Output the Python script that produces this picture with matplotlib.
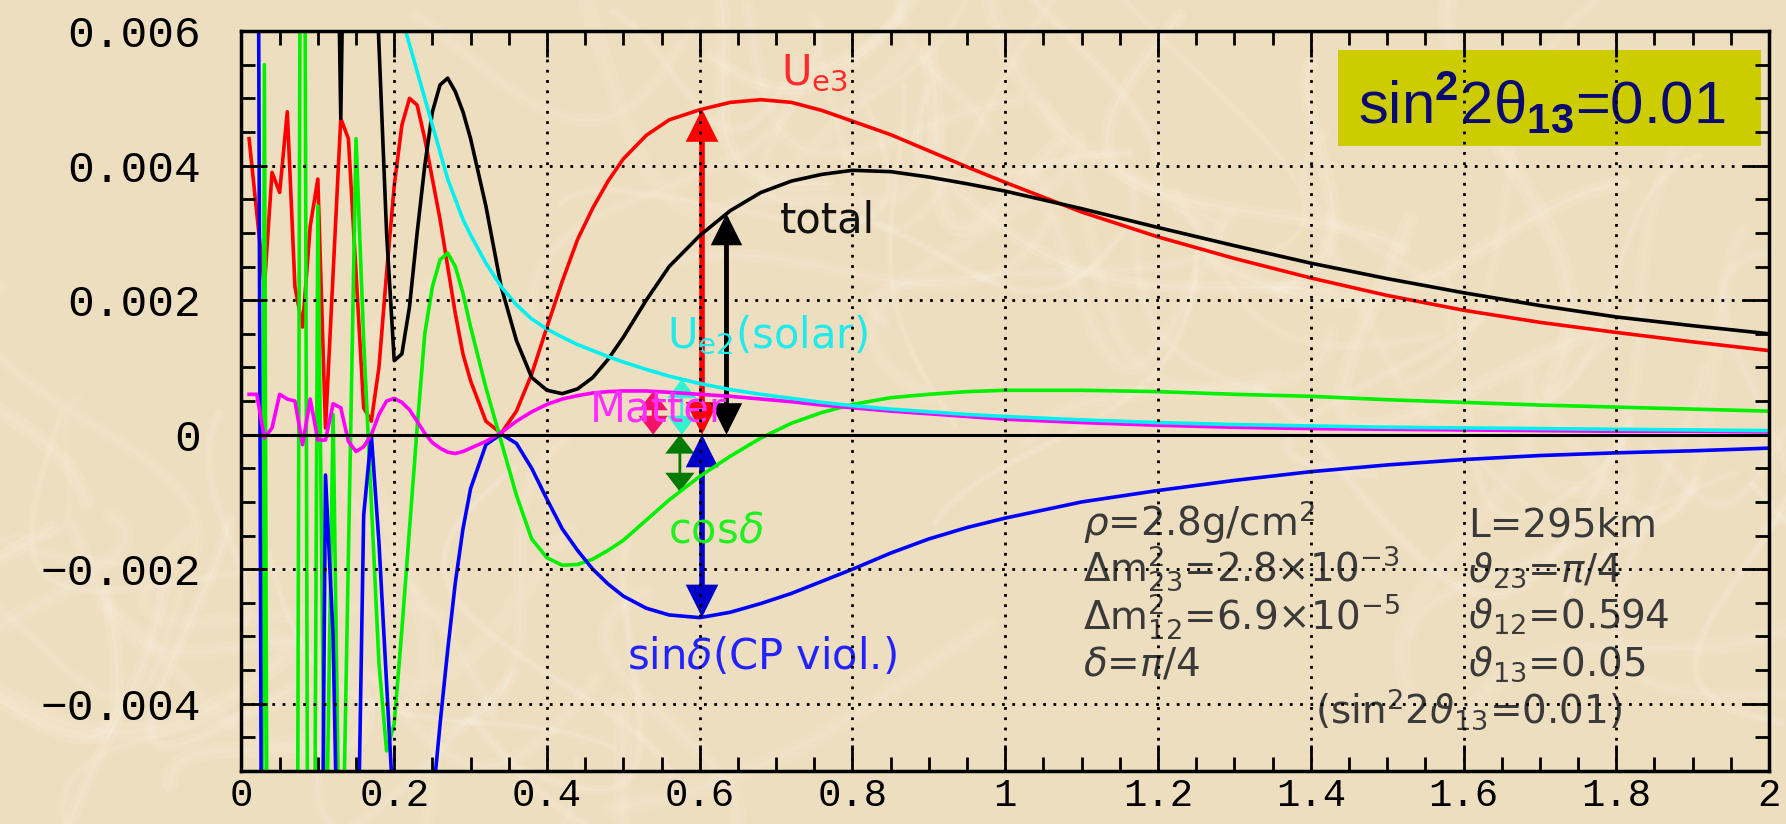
import numpy as np
import matplotlib
matplotlib.use("Agg")
import matplotlib.pyplot as plt
from matplotlib.patches import FancyArrowPatch, Rectangle, ArrowStyle
from matplotlib.ticker import FixedLocator, FixedFormatter, MultipleLocator

# ---------------------------------------------------------------- data
# neutrino energy grid (GeV)
E = [0.01, 0.02, 0.03, 0.04, 0.05, 0.06, 0.07, 0.08, 0.09, 0.10,
     0.11, 0.12, 0.13, 0.14, 0.15, 0.16, 0.17, 0.18, 0.19, 0.20,
     0.21, 0.22, 0.23, 0.24, 0.25, 0.26, 0.27, 0.28, 0.29, 0.30,
     0.32, 0.34, 0.36, 0.38, 0.40, 0.42, 0.44, 0.46, 0.48, 0.50,
     0.53, 0.56, 0.60, 0.64, 0.68, 0.72, 0.76, 0.80, 0.85, 0.90,
     0.95, 1.00, 1.10, 1.20, 1.30, 1.40, 1.50, 1.60, 1.70, 1.80,
     1.90, 2.00]

# contributions to P(nu_mu -> nu_e)
ue3 = [0.0044, 0.0033, 0.0022, 0.0039, 0.0036, 0.0048, 0.0022, 0.0016, 0.0031, 0.0038,
       0.0001, 0.0024, 0.0047, 0.0044, 0.0024, 0.0004, 0.0002, 0.0010, 0.0024, 0.0037,
       0.0046, 0.0050, 0.0049, 0.0044, 0.0038, 0.0032, 0.0025, 0.0018, 0.0012, 0.0008,
       0.0002, 0.00002, 0.00035, 0.0009, 0.0016, 0.00228, 0.0029, 0.00337, 0.00377, 0.0041,
       0.00445, 0.00468, 0.00483, 0.00494, 0.00498, 0.00494, 0.00482, 0.00466, 0.00446, 0.00422,
       0.00398, 0.00375, 0.00331, 0.00294, 0.00262, 0.00233, 0.00207, 0.00185, 0.00167, 0.00152,
       0.00138, 0.00125]

total = [0.011, 0.012, 0.010, 0.013, 0.011, 0.012, 0.010, 0.013, 0.011, 0.012,
         0.013, 0.012, 0.0047, 0.012, 0.013, 0.011, 0.0085, 0.0058, 0.0030, 0.0011,
         0.0012, 0.0019, 0.0030, 0.0040, 0.0048, 0.0052, 0.0053, 0.0051, 0.0048, 0.0044,
         0.0034, 0.0022, 0.0014, 0.00085, 0.00066, 0.00061, 0.00068, 0.00085, 0.00112, 0.00145,
         0.0020, 0.0025, 0.00296, 0.00333, 0.0036, 0.00377, 0.00387, 0.00393, 0.00391, 0.00383,
         0.00373, 0.00362, 0.00336, 0.00308, 0.00281, 0.00255, 0.00232, 0.00211, 0.00192, 0.00175,
         0.00162, 0.0015]

ue2_solar = [0.9, 0.4, 0.2, 0.1, 0.07, 0.05, 0.04, 0.03, 0.025, 0.02,
             0.017, 0.015, 0.013, 0.0115, 0.0102, 0.0092, 0.0083, 0.0076, 0.0071, 0.0066,
             0.0062, 0.0058, 0.0054, 0.0050, 0.0046, 0.0042, 0.0038, 0.0035, 0.0032, 0.00297,
             0.00255, 0.0022, 0.00193, 0.00172, 0.00157, 0.00145, 0.00134, 0.00125, 0.00116, 0.00108,
             0.00097, 0.00087, 0.00076, 0.00067, 0.0006, 0.00054, 0.00048, 0.00043, 0.00038, 0.00034,
             0.0003, 0.00027, 0.00022, 0.00018, 0.00015, 0.00013, 0.00011, 0.0001, 0.00009, 0.00008,
             0.00007, 0.00006]

matter = [0.0006, 0.0006, -0.00005, 0.0001, 0.0006, 0.00053, 0.0005, -0.00015, 0.00053, -0.00008,
          -0.00008, 0.00046, 0.0004, -0.0001, -0.00025, -0.00018, 0.0, 0.0003, 0.0005, 0.00054,
          0.00048, 0.00037, 0.0002, 0.00002, -0.00012, -0.0002, -0.00026, -0.00028, -0.00025, -0.0002,
          -0.0001, 0.00003, 0.0002, 0.00034, 0.00045, 0.00053, 0.00058, 0.00062, 0.00064, 0.00065,
          0.00065, 0.00063, 0.0006, 0.00057, 0.00053, 0.00049, 0.00044, 0.0004, 0.00035, 0.00031,
          0.00027, 0.00023, 0.00018, 0.00014, 0.00011, 0.00009, 0.00008, 0.00007, 0.00006, 0.00005,
          0.00005, 0.00004]

cos_delta = [-0.03, -0.04, 0.0055, -0.03, -0.025, -0.03, -0.02, 0.02, -0.02, 0.0034,
             -0.007, 0.0003, -0.008, -0.0018, 0.0044, 0.0014, -0.001, -0.0034, -0.0047, -0.0043,
             -0.0029, -0.0014, 0.0001, 0.0015, 0.0022, 0.0026, 0.0027, 0.0025, 0.0021, 0.0016,
             0.0007, -0.0001, -0.0009, -0.00155, -0.00183, -0.00194, -0.00193, -0.00185, -0.00172, -0.00157,
             -0.00127, -0.00097, -0.00062, -0.00032, -0.00005, 0.00017, 0.00033, 0.00045, 0.00055, 0.0006,
             0.00064, 0.00066, 0.00066, 0.00064, 0.0006, 0.00057, 0.00052, 0.00048, 0.00044, 0.00041,
             0.00038, 0.00035]

sin_delta = [0.02, 0.015, -0.02, -0.03, -0.025, -0.02, -0.02, -0.025, -0.02, -0.015,
             -0.0006, -0.003, -0.009, -0.012, -0.008, -0.0012, 0.0, -0.0016, -0.0037, -0.0058,
             -0.008, -0.0095, -0.0095, -0.0075, -0.0055, -0.0043, -0.0032, -0.0022, -0.0014, -0.0008,
             -0.00015, 0.00001, -0.00013, -0.0005, -0.00096, -0.0014, -0.00172, -0.002, -0.00222, -0.0024,
             -0.00258, -0.00268, -0.00272, -0.00264, -0.00251, -0.00236, -0.00218, -0.002, -0.00176, -0.00155,
             -0.00138, -0.00124, -0.001, -0.00083, -0.00068, -0.00055, -0.00045, -0.00037, -0.00031, -0.00027,
             -0.00024, -0.0002]

# energies at which each term's size is marked with a double arrow
ARROW_E = {"matter": 0.539, "solar": 0.5765, "cos": 0.574,
           "ue3": 0.603, "sin": 0.603, "total": 0.635}

x_ticks = [0, 0.2, 0.4, 0.6, 0.8, 1.0, 1.2, 1.4, 1.6, 1.8, 2.0]
x_tick_labels = ["0", "0.2", "0.4", "0.6", "0.8", "1", "1.2", "1.4", "1.6", "1.8", "2"]
y_ticks = [-0.004, -0.002, 0.0, 0.002, 0.004, 0.006]
y_tick_labels = ["\u22120.004", "\u22120.002", "0", "0.002", "0.004", "0.006"]

# ---------------------------------------------------------------- style
BG = "#EEDEC0"
RED, BLACK, CYAN, MAGENTA, GREEN, BLUE = "#FF0000", "#000000", "#00F0F0", "#FF00FF", "#00F000", "#0000FF"
plt.rcParams["mathtext.fontset"] = "custom"
plt.rcParams["mathtext.rm"] = "DejaVu Sans"
plt.rcParams["mathtext.it"] = "DejaVu Sans:italic"
plt.rcParams["mathtext.sf"] = "DejaVu Sans"
plt.rcParams["mathtext.bf"] = "Liberation Sans:bold"

fig = plt.figure(figsize=(17.86, 8.24), dpi=100, facecolor=BG)

# fibrous paper backdrop: soft light strands laid out on a golden-ratio sequence
paper = fig.add_axes([0, 0, 1, 1], zorder=-5)
paper.set_xlim(0, 1)
paper.set_ylim(0, 1)
paper.axis("off")
t = np.linspace(0.0, 1.0, 160)
phi = 0.6180339887
for k in range(90):
    u = (k * phi) % 1.0
    v = (k * phi * phi + 0.37) % 1.0
    w = (k * 0.7548776662 + 0.11) % 1.0
    ang = 2 * np.pi * w
    length = 0.08 + 0.16 * ((k * 0.414) % 1.0)
    bend = 0.02 + 0.05 * ((k * 0.318) % 1.0)
    wig = bend * (np.sin(np.pi * t * 1.3 + w * 6) + 0.35 * np.sin(5.0 * t + k))
    xs = u + length * t * np.cos(ang) + wig * np.sin(ang)
    ys = v + 2.1 * (length * t * np.sin(ang) - wig * np.cos(ang))
    a = 0.07 + 0.08 * ((k * 0.57) % 1.0)
    lw = 2.0 + 4.0 * ((k * 0.29) % 1.0)
    paper.plot(xs, ys, color="#FFF8EC", alpha=a, lw=lw * 2.2, solid_capstyle="round")
    paper.plot(xs, ys, color="#FFFBF4", alpha=a * 0.9, lw=lw * 0.6, solid_capstyle="round")

ax = fig.add_axes([0.1352, 0.0643, 0.8553, 0.898])
ax.set_facecolor("none")
ax.set_xlim(0, 2)
ax.set_ylim(-0.005, 0.006)
ax.set_axisbelow(False)

# curves
LW = 2.6
ax.plot(E, ue3, color=RED, lw=LW, zorder=2.0)
ax.plot(E, total, color=BLACK, lw=LW, zorder=2.01)
ax.plot(E, cos_delta, color=GREEN, lw=LW, zorder=2.02)
ax.plot(E, sin_delta, color=BLUE, lw=LW, zorder=2.03)
ax.plot(E, matter, color=MAGENTA, lw=LW, zorder=2.04)
ax.plot(E, ue2_solar, color=CYAN, lw=LW, zorder=2.05)
ax.axhline(0, color="black", lw=2.2, zorder=2.6)


def double_arrow(key, series, color, lw, hl, hw):
    xa = ARROW_E[key]
    ya = float(np.interp(xa, E, series))
    style = ArrowStyle("<|-|>", head_length=hl, head_width=hw)
    arr = FancyArrowPatch((xa, 0.0), (xa, ya), arrowstyle=style, mutation_scale=1,
                          lw=lw, color=color, shrinkA=0, shrinkB=0, zorder=1.8,
                          joinstyle="miter")
    ax.add_patch(arr)


double_arrow("matter", matter, "#F5106A", 2.0, 11, 8.5)
double_arrow("solar", ue2_solar, "#33F2CF", 2.0, 11, 8.5)
double_arrow("cos", cos_delta, "#007A00", 2.0, 11, 8.5)
double_arrow("ue3", ue3, RED, 4.0, 17, 8.5)
double_arrow("sin", sin_delta, "#0000C8", 4.0, 17, 8.5)
double_arrow("total", total, BLACK, 3.5, 17, 8.5)

# curve labels
LBL = dict(fontsize=30, ha="left", va="baseline", zorder=2.2)
ax.text(0.707, 0.0052, r"U$_{\mathrm{e3}}$", color="#FF2A2A", **LBL)
ax.text(0.705, 0.0030, "total", color="#111111", **LBL)
ax.text(0.557, 0.00129, r"U$_{\mathrm{e2}}$(solar)", color="#22EAEA", **LBL)
ax.text(0.456, 0.0002, "Matter", color="#FF30FF", **LBL)
ax.text(0.558, -0.0016, r"cos$\delta$", color="#22EE22", **LBL)
ax.text(0.505, -0.00348, r"sin$\delta$(CP viol.)", color="#2222FF", **LBL)

# oscillation parameters
PAR = dict(fontsize=28, ha="left", va="baseline", color="#3a3a3a", zorder=2.2)
ax.text(1.102, -0.00151, r"$\rho$=2.8g/cm$^{2}$", **PAR)
ax.text(1.606, -0.00151, "L=295km", **PAR)
ax.text(1.102, -0.00219, r"$\Delta\mathrm{m}^{2}_{23}$=2.8$\times$10$^{-3}$", **PAR)
ax.text(1.606, -0.00219, r"$\vartheta_{23}$=$\pi$/4", **PAR)
ax.text(1.102, -0.00289, r"$\Delta\mathrm{m}^{2}_{12}$=6.9$\times$10$^{-5}$", **PAR)
ax.text(1.606, -0.00289, r"$\vartheta_{12}$=0.594", **PAR)
ax.text(1.102, -0.00358, r"$\delta$=$\pi$/4", **PAR)
ax.text(1.606, -0.00358, r"$\vartheta_{13}$=0.05", **PAR)
ax.text(1.406, -0.0043, r"(sin$^{2}$2$\vartheta_{13}$=0.01)", **PAR)

# highlighted mixing-angle box
ax.add_patch(Rectangle((0.718, 0.845), 0.277, 0.129, transform=ax.transAxes,
                       facecolor="#CCCC00", edgecolor="none", zorder=2.3))
ax.text(0.7306, 0.8757, r"sin$^{\mathbf{2}}$2θ$_{\mathbf{13}}$=0.01", transform=ax.transAxes,
        fontsize=43, family="Liberation Sans", color="#0A0A70", ha="left", va="baseline",
        zorder=2.4)

# axes, ticks, grid
ax.xaxis.set_major_locator(FixedLocator(x_ticks))
ax.xaxis.set_major_formatter(FixedFormatter(x_tick_labels))
ax.yaxis.set_major_locator(FixedLocator(y_ticks))
ax.yaxis.set_major_formatter(FixedFormatter(y_tick_labels))
ax.xaxis.set_minor_locator(MultipleLocator(0.05))
ax.yaxis.set_minor_locator(MultipleLocator(0.0005))
ax.tick_params(which="both", direction="in", top=True, right=True, width=2.0, color="black",
               labelfontfamily="Liberation Mono", labelcolor="black")
ax.tick_params(which="major", length=19)
ax.tick_params(which="minor", length=10)
ax.tick_params(axis="x", pad=5, labelsize=28)
ax.tick_params(axis="y", pad=29, labelsize=32)
ax.grid(True, which="major", color="black", linestyle=(0, (1, 2.7)), linewidth=2.0)
for sp in ax.spines.values():
    sp.set_linewidth(2.5)
    sp.set_color("black")
    sp.set_zorder(2.7)

fig.savefig("out.png", dpi=100, facecolor=BG)
